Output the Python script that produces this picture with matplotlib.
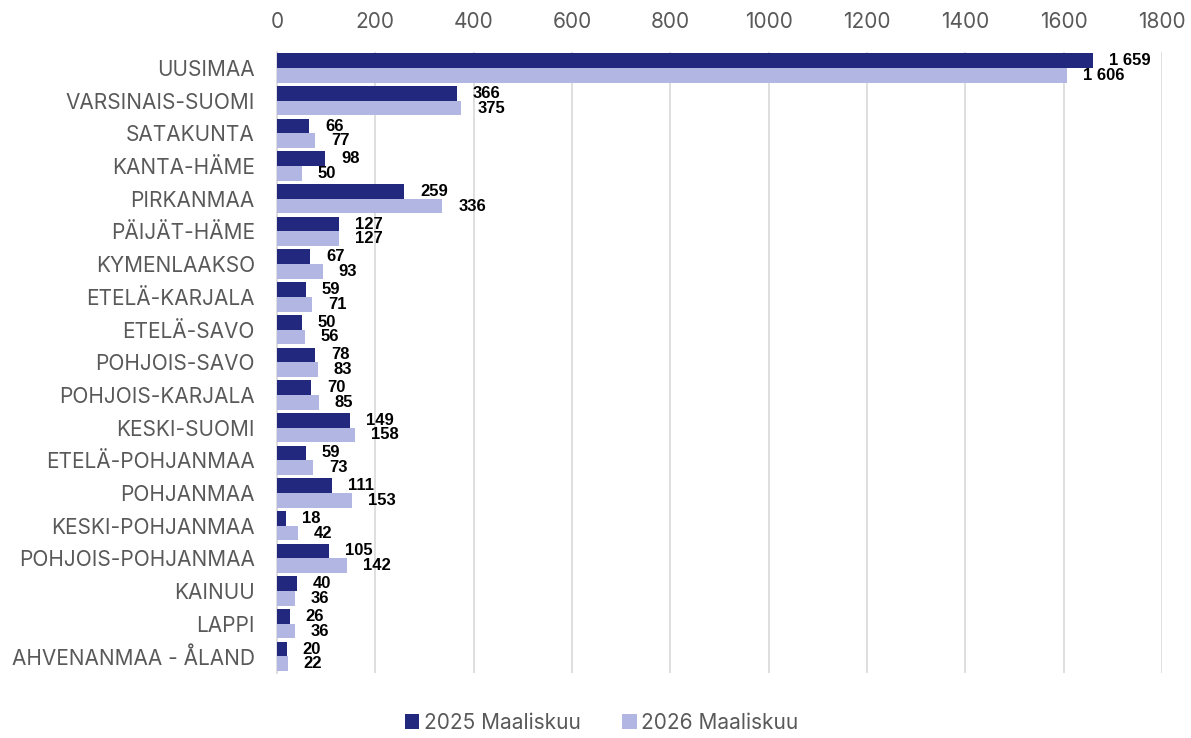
import matplotlib as mpl
mpl.use('Agg')
import matplotlib.pyplot as plt
import numpy as np

regions = ['UUSIMAA', 'VARSINAIS-SUOMI', 'SATAKUNTA', 'KANTA-HÄME', 'PIRKANMAA',
           'PÄIJÄT-HÄME', 'KYMENLAAKSO', 'ETELÄ-KARJALA', 'ETELÄ-SAVO', 'POHJOIS-SAVO',
           'POHJOIS-KARJALA', 'KESKI-SUOMI', 'ETELÄ-POHJANMAA', 'POHJANMAA',
           'KESKI-POHJANMAA', 'POHJOIS-POHJANMAA', 'KAINUU', 'LAPPI', 'AHVENANMAA - ÅLAND']
v2025 = [1659, 366, 66, 98, 259, 127, 67, 59, 50, 78, 70, 149, 59, 111, 18, 105, 40, 26, 20]
v2026 = [1606, 375, 77, 50, 336, 127, 93, 71, 56, 83, 85, 158, 73, 153, 42, 142, 36, 36, 22]
series = ['2025 Maaliskuu', '2026 Maaliskuu']

c1 = '#23287f'
c2 = '#b1b6e3'
grey = '#595959'

plt.rcParams['font.family'] = ['Inter', 'DejaVu Sans']

fig = plt.figure(figsize=(11.91, 7.38), dpi=100)
ax = fig.add_axes([0.2326, 0.0884, 0.7431, 0.8416])

y = np.arange(len(regions))
h = 0.45
b1 = ax.barh(y - h/2, v2025, height=h, color=c1, label=series[0], zorder=3)
b2 = ax.barh(y + h/2, v2026, height=h, color=c2, label=series[1], zorder=3)

def fmt(v):
    return '{:,}'.format(v).replace(',', ' ')

for rects, vals in ((b1, v2025), (b2, v2026)):
    for r, v in zip(rects, vals):
        ax.annotate(fmt(v), (r.get_width(), r.get_y() + r.get_height()/2),
                    xytext=(11.5, 0), textcoords='offset points', va='center', ha='left',
                    fontsize=12, fontweight='bold', color='black',
                    family=['Liberation Sans', 'DejaVu Sans'])

ax.set_ylim(len(regions) - 0.5, -0.5)
ax.set_xlim(0, 1800)
ax.set_xticks(np.arange(0, 1801, 200))
ax.xaxis.tick_top()
ax.set_yticks(y)
ax.set_yticklabels(regions)
ax.tick_params(axis='x', length=0, labelsize=15, colors=grey, pad=14)
ax.tick_params(axis='y', length=0, labelsize=15, colors=grey, pad=16)
ax.grid(axis='x', color='#d9d9d9', linewidth=1.2, zorder=0)
for s in ['top', 'right', 'bottom']:
    ax.spines[s].set_visible(False)
ax.spines['left'].set_color('#d9d9d9')
ax.spines['left'].set_linewidth(1.2)

leg = fig.legend(handles=[b1, b2], loc='center', bbox_to_anchor=(0.505, 0.021), ncol=2,
                 frameon=False, fontsize=15, handlelength=0.7, handleheight=0.7,
                 columnspacing=2.0, handletextpad=0.2)
for t in leg.get_texts():
    t.set_color(grey)

fig.savefig('out.png', dpi=100)
